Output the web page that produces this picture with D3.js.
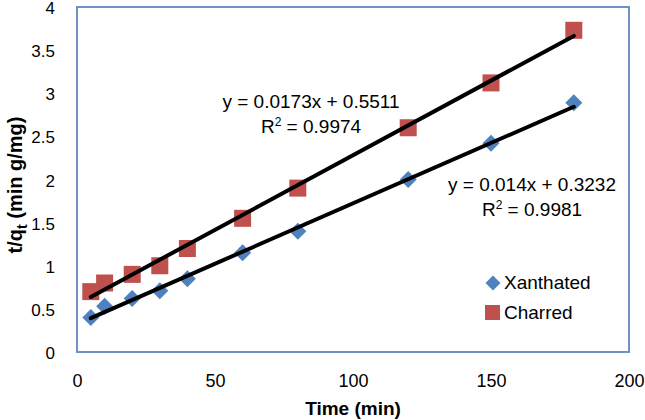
<!DOCTYPE html>
<html><head><meta charset="utf-8">
<script src="https://cdn.jsdelivr.net/npm/d3@7/dist/d3.min.js"></script>
<style>body{margin:0;background:#fff;} svg{display:block;font-family:"Liberation Sans",Arial,sans-serif;}</style>
</head><body>
<svg id="c" width="645" height="420"></svg>
<script>
const timeX = [5, 10, 20, 30, 40, 60, 80, 120, 150, 180];
const xanthated = [0.40, 0.53, 0.62, 0.71, 0.85, 1.15, 1.40, 2.00, 2.42, 2.89];
const charred = [0.70, 0.80, 0.90, 1.00, 1.20, 1.55, 1.90, 2.60, 3.12, 3.73];
const fitX = {slope: 0.014, intercept: 0.3232, label: "y = 0.014x + 0.3232", r2: "0.9981"};
const fitC = {slope: 0.0173, intercept: 0.5511, label: "y = 0.0173x + 0.5511", r2: "0.9974"};
const xTicks = [0, 50, 100, 150, 200];
const yTicks = [0, 0.5, 1, 1.5, 2, 2.5, 3, 3.5, 4];
const seriesNames = ["Xanthated", "Charred"];

const svg = d3.select("#c");
const L = 77, R = 629, T = 7, B = 352;
const x = d3.scaleLinear().domain([0, 200]).range([L, R]);
const y = d3.scaleLinear().domain([0, 4]).range([B, T]);
const blue = "#4F81BD", red = "#C0504D";

// plot border
svg.append("rect").attr("x", L).attr("y", T).attr("width", R - L).attr("height", B - T)
  .attr("fill", "none").attr("stroke", "#6f91c4").attr("stroke-width", 2);

// axes
const ax = svg.append("g").attr("transform", `translate(0,${B})`)
  .call(d3.axisBottom(x).tickValues(xTicks).tickSize(0).tickPadding(0).tickFormat(d3.format("d")));
ax.select(".domain").remove();
ax.selectAll("text").attr("dy", "0").attr("y", 35).attr("font-size", 18).attr("fill", "#000")
  .attr("font-family", "Liberation Sans, Arial, sans-serif");

const ay = svg.append("g").attr("transform", `translate(${L},0)`)
  .call(d3.axisLeft(y).tickValues(yTicks).tickSize(0).tickPadding(22).tickFormat(d => d));
ay.select(".domain").remove();
ay.selectAll("text").attr("font-size", 17).attr("fill", "#000").attr("dy", "0").attr("y", 6.5)
  .attr("font-family", "Liberation Sans, Arial, sans-serif");

// axis titles
svg.append("text").attr("x", (L + R) / 2).attr("y", 415).attr("text-anchor", "middle")
  .attr("font-size", 19).attr("font-weight", "bold").text("Time (min)");
const yt = svg.append("text").attr("transform", `translate(22,185) rotate(-90)`)
  .attr("text-anchor", "middle").attr("font-size", 20).attr("font-weight", "bold");
yt.append("tspan").text("t/q");
yt.append("tspan").attr("font-size", 14).attr("dy", 5).text("t");
yt.append("tspan").attr("dy", -5).text(" (min g/mg)");

// markers
const h = 8.5;
const diamondPath = `M0,${-h}L${h},0L0,${h}L${-h},0Z`;
svg.append("g").selectAll("path").data(timeX.map((t, i) => [t, xanthated[i]])).join("path")
  .attr("d", diamondPath).attr("transform", d => `translate(${x(d[0])},${y(d[1])})`)
  .attr("fill", blue);
const sq = 17;
svg.append("g").selectAll("rect").data(timeX.map((t, i) => [t, charred[i]])).join("rect")
  .attr("x", d => x(d[0]) - sq / 2).attr("y", d => y(d[1]) - sq / 2)
  .attr("width", sq).attr("height", sq).attr("fill", red);

// trendlines
const x0 = d3.min(timeX), x1 = d3.max(timeX);
[fitC, fitX].forEach(f => {
  svg.append("line").attr("x1", x(x0)).attr("y1", y(f.slope * x0 + f.intercept))
    .attr("x2", x(x1)).attr("y2", y(f.slope * x1 + f.intercept))
    .attr("stroke", "#000").attr("stroke-width", 4).attr("stroke-linecap", "round");
});

// equation labels
function eq(f, cx, by) {
  svg.append("text").attr("x", cx).attr("y", by).attr("text-anchor", "middle").attr("font-size", 19).text(f.label);
  const t = svg.append("text").attr("x", cx).attr("y", by + 25).attr("text-anchor", "middle").attr("font-size", 19);
  t.append("tspan").text("R");
  t.append("tspan").attr("font-size", 12).attr("dy", -7).text("2");
  t.append("tspan").attr("dy", 7).text(" = " + f.r2);
}
eq(fitC, 311, 108);
eq(fitX, 532, 191);

// legend
const lh = 7.5;
svg.append("path").attr("d", `M0,${-lh}L${lh},0L0,${lh}L${-lh},0Z`)
  .attr("transform", "translate(493,283)").attr("fill", blue);
svg.append("text").attr("x", 504).attr("y", 289).attr("font-size", 19).text(seriesNames[0]);
svg.append("rect").attr("x", 485).attr("y", 305).attr("width", 15).attr("height", 15).attr("fill", red);
svg.append("text").attr("x", 504).attr("y", 319).attr("font-size", 19).text(seriesNames[1]);
</script>
</body></html>
